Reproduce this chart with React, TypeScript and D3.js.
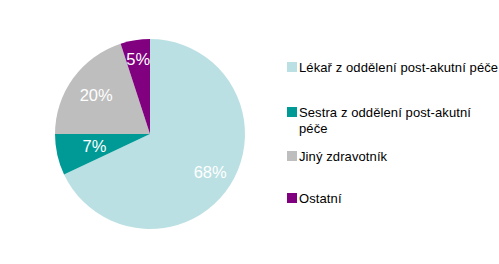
import React from "react";
import * as d3 from "d3";

const categories = ["Lékař z oddělení post-akutní péče", "Sestra z oddělení post-akutní péče", "Jiný zdravotník", "Ostatní"];
const values = [68, 7, 20, 5];
const legendLines = [["Lékař z oddělení post-akutní péče"], ["Sestra z oddělení post-akutní", "péče"], ["Jiný zdravotník"], ["Ostatní"]];
const colors = ["#BBE0E3", "#009A96", "#BEBEBE", "#800080"];

const W = 499, H = 264;
const cx = 150, cy = 134, R = 95;
const labelR = [0.75, 0.6, 0.7, 0.8];
const legendY = [67, 112, 156, 198];

export default function App() {
  const pie = d3.pie<number>().sort(null).value((d) => d)(values);
  const arc = d3.arc<d3.PieArcDatum<number>>().innerRadius(0).outerRadius(R);
  return (
    <svg width={W} height={H} style={{ position: "absolute", left: 0, top: 0, fontFamily: "Liberation Sans, Arial, sans-serif" }}>
      <rect width={W} height={H} fill="#fff" />
      <g transform={`translate(${cx},${cy})`}>
        {pie.map((p, i) => (
          <path key={i} d={arc(p) || ""} fill={colors[i]} />
        ))}
        {pie.map((p, i) => {
          const la = d3.arc<d3.PieArcDatum<number>>().innerRadius(R * labelR[i]).outerRadius(R * labelR[i]);
          const [x, y] = la.centroid(p);
          return (
            <text key={i} x={x} y={y} dy="0.35em" textAnchor="middle" fill="#fff" fontSize={16.5}>
              {values[i]}%
            </text>
          );
        })}
      </g>
      <g>
        {categories.map((c, i) => (
          <g key={c}>
            <rect x={287} y={legendY[i] - 5} width={10} height={10} fill={colors[i]} />
            {legendLines[i].map((l, j) => (
              <text key={j} x={299} y={legendY[i] + j * 16} dy="0.35em" fontSize={13} fill="#000" letterSpacing={0.1}>
                {l}
              </text>
            ))}
          </g>
        ))}
      </g>
    </svg>
  );
}
